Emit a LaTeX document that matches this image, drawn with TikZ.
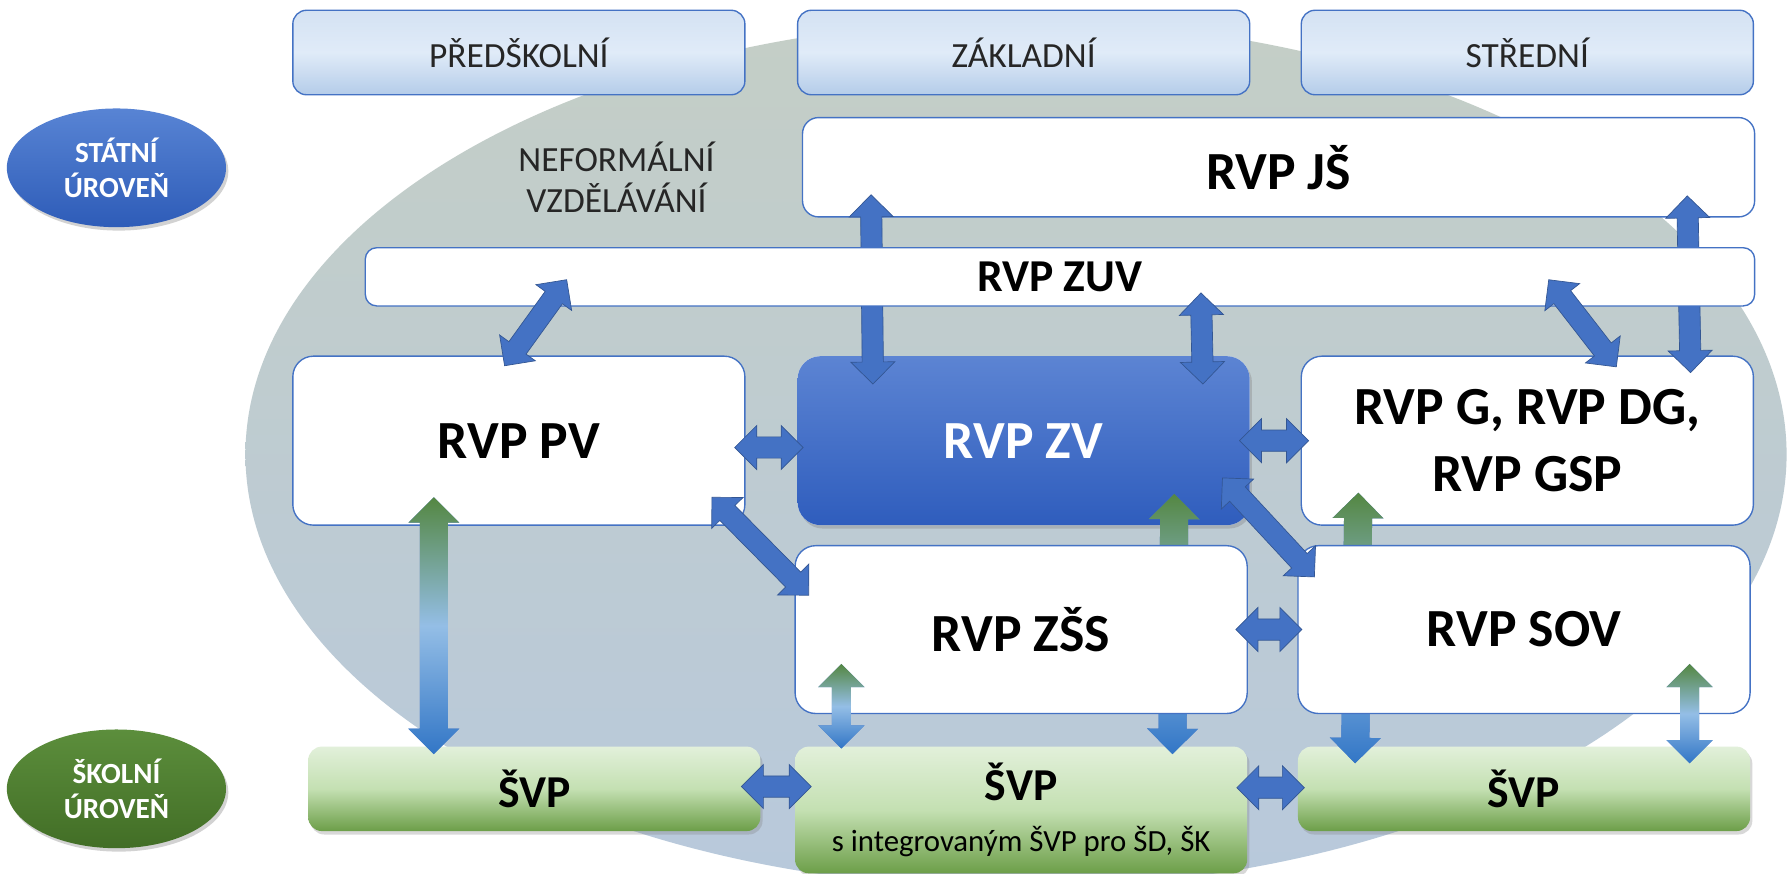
\documentclass[tikz,border=0pt]{standalone}
\usepackage{fontspec}
\setmainfont{Carlito}
\usetikzlibrary{positioning,calc,shapes.geometric,shapes.arrows,shadows}

\definecolor{boxblue}{RGB}{68,114,196}
\definecolor{arrblue}{RGB}{68,114,196}
\definecolor{arrgreen}{RGB}{84,135,66}
\definecolor{arrlight}{RGB}{148,190,230}
\definecolor{arrdeep}{RGB}{50,118,198}
\definecolor{bgtop}{RGB}{196,206,198}
\definecolor{bgbot}{RGB}{184,201,220}
\definecolor{stagetop}{RGB}{212,226,243}
\definecolor{stagemid}{RGB}{224,235,248}
\definecolor{stagebot}{RGB}{180,204,233}
\definecolor{zvtop}{RGB}{92,132,211}
\definecolor{zvbot}{RGB}{47,93,189}
\definecolor{svptop}{RGB}{226,240,218}
\definecolor{svpmid}{RGB}{196,224,178}
\definecolor{svpbot}{RGB}{108,158,72}
\definecolor{statetop}{RGB}{88,132,212}
\definecolor{statebot}{RGB}{46,92,184}
\definecolor{schooltop}{RGB}{92,142,60}
\definecolor{schoolbot}{RGB}{66,110,38}

% block double arrow between two points
\newcommand\duplexto[4][]{%
  \path let \p1=(#3), \p2=(#4),
      \n1={atan2(\y2-\y1,\x2-\x1)}, \n2={veclen(\x2-\x1,\y2-\y1)} in
    node[duplex, #1, rotate=\n1, minimum height=\n2] (#2) at ($(\p1)!0.5!(\p2)$) {};}

\begin{document}
\begin{tikzpicture}[x=0.5pt, y=-0.5pt,
    tier/.style={ellipse, minimum width=96pt, minimum height=52pt, inner sep=0pt,
      align=center, text=white, font=\fontsize{12.8}{15.5}\selectfont\bfseries,
      drop shadow={shadow xshift=1pt, shadow yshift=-1.5pt, opacity=.35}},
    stage/.style={rectangle, rounded corners=6pt, draw=boxblue, line width=.6pt,
      top color=stagetop, bottom color=stagebot, middle color=stagemid,
      minimum width=198pt, minimum height=37pt, text=black!85,
      font=\fontsize{15.5}{18}\selectfont},
    rvp/.style={rectangle, rounded corners=9pt, draw=boxblue, line width=.6pt, fill=white,
      minimum width=198pt, minimum height=74pt, align=center,
      font=\fontsize{23.5}{29}\selectfont\bfseries},
    core/.style={rvp, draw=none, top color=zvtop, bottom color=zvbot, text=white,
      rounded corners=10pt,
      drop shadow={shadow xshift=1pt, shadow yshift=-1.5pt, opacity=.35}},
    svp/.style={rectangle, rounded corners=6pt,
      top color=svptop, bottom color=svpbot, middle color=svpmid,
      minimum width=198pt, minimum height=37pt, align=center,
      font=\fontsize{20}{24}\selectfont\bfseries,
      drop shadow={shadow xshift=1pt, shadow yshift=-1.5pt, opacity=.3}},
    duplex/.style={double arrow, draw=arrblue!75!black, line width=.3pt, fill=arrblue,
      inner sep=0pt, inner ysep=4.5pt, double arrow head extend=5pt, minimum width=0pt},
    fade/.style={draw=none, inner ysep=6pt, double arrow head extend=5pt,
      top color=arrgreen, bottom color=arrdeep, middle color=arrlight},
    thinfade/.style={fade, inner ysep=4pt, double arrow head extend=6pt}
  ]
  \useasboundingbox (0,0) rectangle (1568,765);
  \fill[white] (0,0) rectangle (1568,765);

  % background
  \path[top color=bgtop, bottom color=bgbot] (890,398) ellipse [x radius=337.5pt, y radius=190pt];

  \node[tier, top color=statetop, bottom color=statebot] (state) at (102,147) {STÁTNÍ\\ÚROVEŇ};
  \node[tier, top color=schooltop, bottom color=schoolbot] (school) at (102,691) {ŠKOLNÍ\\ÚROVEŇ};

  \node[stage] (pre) at (454.5,46) {PŘEDŠKOLNÍ};
  \node[stage, right=22.5pt of pre] (basic) {ZÁKLADNÍ};
  \node[stage, right=22pt of basic] (upper) {STŘEDNÍ};

  \node[font=\fontsize{15.5}{18}\selectfont, align=center, text=black!85] (informal) at (540,155)
    {NEFORMÁLNÍ\\VZDĚLÁVÁNÍ};

  \node[rvp, minimum width=417pt, minimum height=43.5pt, rounded corners=7pt] (js) at (1120,146.5) {RVP JŠ};

  \node[rvp] (pv) at (454.5,386) {RVP PV};
  \node[core, right=22.5pt of pv] (zv) {RVP ZV};
  \node[rvp, right=22pt of zv] (g) {RVP G, RVP DG,\\RVP GSP};

  \node[svp] (svpl) at (468,691) {ŠVP};
  \node[svp, minimum height=55.5pt] (svpm) at (894.5,709.5)
    {ŠVP\\[-2pt]{\fontsize{13.5}{16}\selectfont\mdseries s integrovaným ŠVP pro ŠD, ŠK}};
  \node[svp] (svpr) at (1335,691) {ŠVP};

  % arrows running behind the later boxes
  \duplexto{js-zv}{$(js.south)+(-357,-20)$}{$(zv.north)+(-132,25)$}
  \duplexto{js-g}{$(js.south)+(358,-19)$}{$(g.north)+(143,15)$}
  \duplexto[fade]{zv-svpm}{$(zv.south)+(132,-28)$}{$(svpm.north)+(132.5,7)$}
  \duplexto[fade]{g-svpr}{$(g.south)+(-148,-29)$}{$(svpr.north)+(-148,15)$}

  \node[rvp, minimum width=608.5pt, minimum height=25.5pt, rounded corners=5pt,
    font=\fontsize{20}{24}\selectfont\bfseries] (zuv) at (928.5,242.5) {RVP ZUV};
  \node[rvp, minimum height=73.5pt] (zss) at (894.5,551.5) {RVP ZŠS};
  \node[rvp, minimum height=73.5pt] (sov) at (1335,551.5) {RVP SOV};

  % links between frameworks
  \duplexto{zuv-zv}{$(zuv.south)+(123.5,-12)$}{$(zv.north)+(157,25)$}
  \duplexto{zuv-pv}{$(zuv.west)+(177,2.5)$}{$(pv.north)+(-12.5,9)$}
  \duplexto{zuv-g}{$(zuv.east)+(-181,2.5)$}{$(g.north)+(78,10)$}
  \duplexto{pv-zv}{$(pv.east)+(-9.5,6)$}{$(zv.west)+(5.5,6)$}
  \duplexto{zv-g}{$(zv.east)+(-9.5,0)$}{$(g.west)+(7,0)$}
  \duplexto{pv-zss}{$(pv.south east)+(-29.5,-25)$}{$(zss.north west)+(12.5,44)$}
  \duplexto{zv-sov}{$(zv.south east)+(-24.5,-42)$}{$(sov.north west)+(15,28)$}
  \duplexto{zss-sov}{$(zss.east)+(-10.5,0)$}{$(sov.west)+(4,0)$}
  \duplexto{svpl-svpm}{$(svpl.east)+(-17,-2)$}{$(svpm.west)+(14.5,-20.5)$}
  \duplexto{svpm-svpr}{$(svpm.east)+(-9.5,-19.5)$}{$(svpr.west)+(6,-1)$}

  % links to school level
  \duplexto[fade]{pv-svpl}{$(pv.south)+(-74.5,-25)$}{$(svpl.north)+(-88,7)$}
  \duplexto[thinfade]{zss-svpm}{$(zss.south)+(-157.5,-44)$}{$(svpm.north)+(-157.5,2)$}
  \duplexto[thinfade]{sov-svpr}{$(sov.south)+(145,-44)$}{$(svpr.north)+(145,15)$}
\end{tikzpicture}
\end{document}
